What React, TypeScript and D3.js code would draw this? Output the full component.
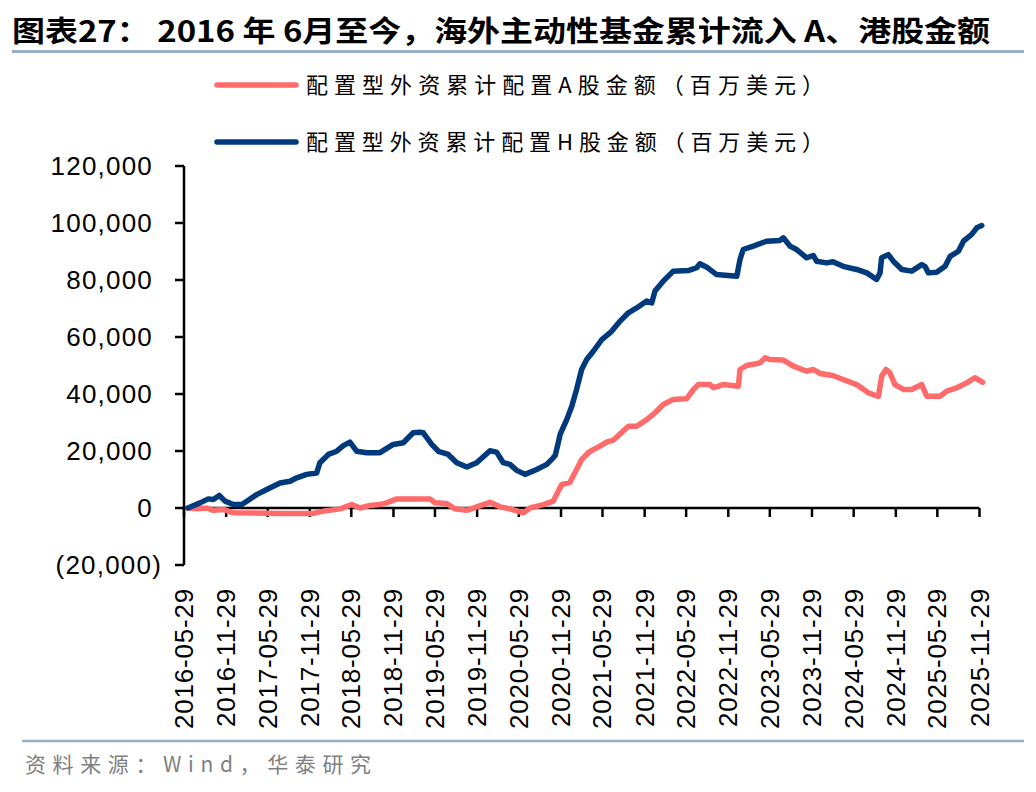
import React from "react";
import * as d3 from "d3";

const title = "图表27：  2016 年  6月至今，海外主动性基金累计流入 A、港股金额";
const source = "资料来源：Wind，华泰研究";
const seriesNames = [
  "配置型外资累计配置A股金额（百万美元）",
  "配置型外资累计配置H股金额（百万美元）",
];
const seriesColors = ["#FF6B6B", "#003A7D"];

const xTickLabels = [
  "2016-05-29", "2016-11-29", "2017-05-29", "2017-11-29", "2018-05-29",
  "2018-11-29", "2019-05-29", "2019-11-29", "2020-05-29", "2020-11-29",
  "2021-05-29", "2021-11-29", "2022-05-29", "2022-11-29", "2023-05-29",
  "2023-11-29", "2024-05-29", "2024-11-29", "2025-05-29", "2025-11-29",
];
const yTicks = [-20000, 0, 20000, 40000, 60000, 80000, 100000, 120000];

// H-share cumulative (USD mn)
const hDates = [
  "2016-06-15", "2016-08-07", "2016-09-12", "2016-10-04", "2016-10-30", "2016-11-24",
  "2016-12-30", "2017-02-05", "2017-02-27", "2017-04-11", "2017-05-25", "2017-07-22",
  "2017-09-04", "2017-10-03", "2017-11-15", "2017-12-29", "2018-01-12", "2018-02-18",
  "2018-03-26", "2018-04-24", "2018-05-23", "2018-06-22", "2018-08-04", "2018-10-01",
  "2018-11-28", "2019-01-11", "2019-02-23", "2019-03-25", "2019-04-08", "2019-05-15",
  "2019-06-13", "2019-07-26", "2019-09-01", "2019-10-15", "2019-11-27", "2020-01-24",
  "2020-02-22", "2020-03-22", "2020-04-20", "2020-05-20", "2020-06-25", "2020-08-15",
  "2020-09-28", "2020-10-26", "2020-11-04", "2020-11-26", "2020-12-24", "2021-01-15",
  "2021-02-05", "2021-02-27", "2021-03-21", "2021-04-19", "2021-05-26", "2021-07-08",
  "2021-08-13", "2021-09-19", "2021-10-25", "2021-12-08", "2021-12-30", "2022-01-13",
  "2022-02-18", "2022-04-03", "2022-06-07", "2022-07-14", "2022-07-28", "2022-08-27",
  "2022-10-09", "2023-01-05", "2023-01-19", "2023-02-02", "2023-03-18", "2023-05-15",
  "2023-07-12", "2023-07-27", "2023-08-25", "2023-09-23", "2023-11-06", "2023-12-05",
  "2023-12-19", "2024-02-01", "2024-02-28", "2024-04-13", "2024-06-11", "2024-07-25",
  "2024-09-06", "2024-09-21", "2024-09-28", "2024-10-27", "2024-11-18", "2024-12-25",
  "2025-02-06", "2025-03-22", "2025-04-05", "2025-04-20", "2025-05-26", "2025-07-02",
  "2025-07-24", "2025-08-29", "2025-09-20", "2025-10-26", "2025-11-17", "2025-12-09",
];
const hValues = [
  0, 1800, 3200, 3000, 4400, 2400,
  1200, 1200, 2400, 4700, 6500, 8800,
  9400, 10600, 11800, 12300, 15900, 18800,
  19900, 21900, 23100, 19900, 19400, 19400,
  22300, 22900, 26400, 26600, 26400, 22300,
  19900, 18800, 15900, 14400, 15900, 20100,
  19600, 15900, 15300, 13200, 11800, 13500,
  15300, 17600, 18500, 26000, 31000, 35700,
  41600, 48600, 52100, 55000, 59100, 62000,
  65500, 68500, 70200, 72600, 72000, 76100,
  79600, 83100, 83300, 84300, 85700, 84500,
  81900, 81300, 87200, 90700, 91900, 93600,
  93900, 94800, 91900, 90700, 87800, 88600,
  86600, 86000, 86400, 84800, 83700, 82500,
  80200, 82500, 87800, 88900, 86600, 83700,
  83100, 85400, 84800, 82500, 82700, 84800,
  88300, 90100, 93600, 96000, 98300, 99100,
];

// A-share cumulative (USD mn)
const aDates = [
  "2016-06-15", "2016-07-23", "2016-09-05", "2016-10-04", "2016-11-16", "2016-12-30",
  "2017-07-22", "2017-12-14", "2018-01-27", "2018-04-10", "2018-05-31", "2018-07-06",
  "2018-08-19", "2018-10-01", "2018-10-30", "2018-12-13", "2019-05-07", "2019-05-29",
  "2019-07-19", "2019-08-24", "2019-10-15", "2019-11-27", "2020-01-24", "2020-03-08",
  "2020-04-20", "2020-06-18", "2020-07-17", "2020-09-13", "2020-10-26", "2020-11-17",
  "2020-12-02", "2021-01-07", "2021-02-05", "2021-02-27", "2021-03-28", "2021-04-19",
  "2021-05-18", "2021-06-16", "2021-07-15", "2021-09-19", "2021-10-25", "2021-12-08",
  "2022-01-13", "2022-02-18", "2022-04-03", "2022-05-31", "2022-06-30", "2022-07-21",
  "2022-09-10", "2022-09-25", "2022-11-07", "2023-01-12", "2023-01-19", "2023-02-17",
  "2023-04-16", "2023-05-08", "2023-05-30", "2023-07-27", "2023-09-09", "2023-11-06",
  "2023-12-05", "2024-01-03", "2024-02-28", "2024-04-13", "2024-06-11", "2024-08-01",
  "2024-09-14", "2024-09-28", "2024-10-17", "2024-11-03", "2024-11-25", "2025-01-01",
  "2025-02-06", "2025-03-22", "2025-04-13", "2025-06-10", "2025-07-09", "2025-08-22",
  "2025-10-04", "2025-11-09", "2025-12-01", "2025-12-13",
];
const aValues = [
  0, -300, 0, -800, -500, -1700,
  -1900, -1900, -1100, -300, 1200, 0,
  900, 1200, 1800, 3200, 3200, 1800,
  1600, -300, -800, 400, 2000, 400,
  -300, -1700, 0, 1200, 2400, 5900,
  8200, 9000, 13500, 17000, 19400, 20500,
  21700, 23100, 23800, 28700, 28700, 31000,
  33400, 36300, 38100, 38300, 41600, 43300,
  43300, 42200, 43300, 42700, 48600, 50000,
  50900, 52700, 52100, 51900, 49800, 48000,
  48600, 47200, 46500, 45100, 43300, 40400,
  39200, 46200, 48600, 47400, 43300, 41600,
  41600, 43300, 39200, 39200, 41000, 42200,
  43900, 45700, 44700, 44100,
];

const W = 1036;
const H = 792;
const plotLeft = 184;
const plotRight = 979.5;
const yTop = 166;
const yBottom = 565;

const parse = d3.timeParse("%Y-%m-%d");

export default function App() {
  const x = d3
    .scaleTime()
    .domain([parse(xTickLabels[0])!, parse(xTickLabels[xTickLabels.length - 1])!])
    .range([plotLeft, plotRight]);
  const y = d3.scaleLinear().domain([-20000, 120000]).range([yBottom, yTop]);

  const fmt = (v: number) =>
    v < 0 ? `(${d3.format(",")(-v)})` : d3.format(",")(v);

  const line = d3
    .line<[Date, number]>()
    .x((d) => x(d[0]))
    .y((d) => y(d[1]));

  const aData: [Date, number][] = aDates.map((d, i) => [parse(d)!, aValues[i]]);
  const hData: [Date, number][] = hDates.map((d, i) => [parse(d)!, hValues[i]]);

  const cjk = '"Noto Sans CJK SC", "Noto Sans", sans-serif';
  const latin = '"Liberation Sans", Arial, sans-serif';
  const y0 = y(0);

  return (
    <svg
      width={W}
      height={H}
      style={{ position: "absolute", left: 0, top: 0, background: "#fff" }}
    >
      <rect x={0} y={0} width={W} height={H} fill="#fff" />
      {/* Title */}
      <text
        x={12}
        y={42}
        fontFamily={cjk}
        fontWeight={700}
        fontSize={29}
        fill="#000"
        textLength={978}
        lengthAdjust="spacingAndGlyphs"
      >
        {title}
      </text>
      <line x1={12} x2={1024} y1={51.5} y2={51.5} stroke="#97AFCB" strokeWidth={3} />

      {/* Legend */}
      {seriesNames.map((name, i) => {
        const ly = 85 + i * 57;
        return (
          <g key={name}>
            <line
              x1={217}
              x2={296}
              y1={ly}
              y2={ly}
              stroke={seriesColors[i]}
              strokeWidth={5.5}
              strokeLinecap="round"
            />
            <text
              x={306}
              y={ly + 8}
              fontFamily={cjk}
              fontSize={22}
              fill="#000"
              textLength={518}
              lengthAdjust="spacing"
            >
              {name}
            </text>
          </g>
        );
      })}

      {/* Y axis */}
      <line x1={plotLeft} x2={plotLeft} y1={yTop} y2={yBottom} stroke="#000" strokeWidth={2.5} />
      {yTicks.map((t) => (
        <g key={t}>
          <line x1={175} x2={plotLeft} y1={y(t)} y2={y(t)} stroke="#000" strokeWidth={2.5} />
          <text
            x={t < 0 ? 162 : 153}
            y={y(t)}
            dy="0.36em"
            textAnchor="end"
            fontFamily={latin}
            fontSize={26}
            letterSpacing={1.2}
            fill="#000"
          >
            {fmt(t)}
          </text>
        </g>
      ))}

      {/* X axis at zero */}
      <line x1={plotLeft} x2={plotRight} y1={y0} y2={y0} stroke="#000" strokeWidth={2.5} />
      {xTickLabels.map((lab) => {
        const tx = x(parse(lab)!);
        return (
          <g key={lab}>
            <line x1={tx} x2={tx} y1={y0} y2={y0 + 9} stroke="#000" strokeWidth={2.5} />
            <text
              transform={`translate(${tx + 9},${588}) rotate(-90)`}
              textAnchor="end"
              fontFamily={latin}
              fontSize={26}
              letterSpacing={0.8}
              fill="#000"
            >
              {lab}
            </text>
          </g>
        );
      })}

      {/* Lines */}
      <path
        d={line(aData) || ""}
        fill="none"
        stroke={seriesColors[0]}
        strokeWidth={5.5}
        strokeLinejoin="round"
        strokeLinecap="round"
      />
      <path
        d={line(hData) || ""}
        fill="none"
        stroke={seriesColors[1]}
        strokeWidth={5.5}
        strokeLinejoin="round"
        strokeLinecap="round"
      />

      {/* Footer */}
      <line x1={22} x2={1024} y1={741} y2={741} stroke="#97AFCB" strokeWidth={2.5} />
      <text
        x={25}
        y={772}
        fontFamily={cjk}
        fontSize={21}
        fill="#7F7F7F"
        textLength={346}
        lengthAdjust="spacing"
      >
        {source}
      </text>
    </svg>
  );
}
